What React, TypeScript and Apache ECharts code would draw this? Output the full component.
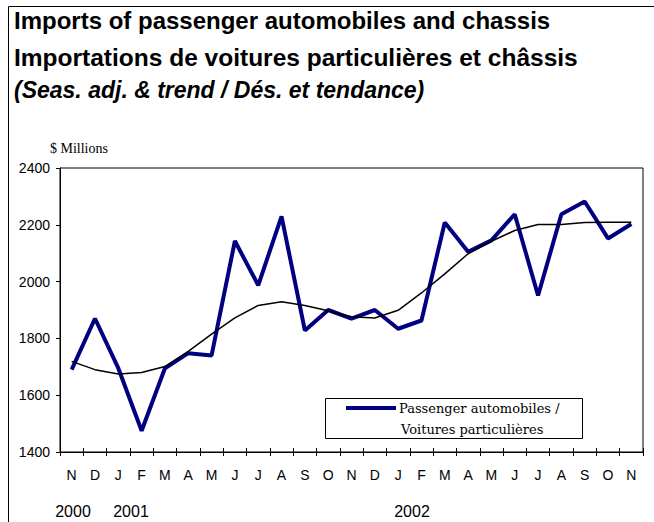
import React, { useEffect, useRef } from "react";
import * as echarts from "echarts";

const months = ["N","D","J","F","M","A","M","J","J","A","S","O","N","D","J","F","M","A","M","J","J","A","S","O","N"];
const passenger = [1690,1870,1695,1475,1695,1748,1740,2143,1987,2230,1828,1900,1870,1900,1834,1863,2208,2105,2145,2237,1951,2237,2282,2152,2203];
const trend = [1719,1690,1675,1680,1701,1754,1815,1872,1916,1929,1916,1897,1876,1872,1899,1960,2027,2098,2142,2180,2201,2201,2208,2209,2209];
const yearLabels = ["2000", "2001", "2002"];
const yearX = [73, 131, 412];
const titleLines = [
  "Imports of passenger automobiles and chassis",
  "Importations de voitures particulières et châssis",
  "(Seas. adj. & trend / Dés. et tendance)",
];
const legendLines = ["Passenger automobiles /", "Voitures particulières"];

const SANS = "'Liberation Sans', Arial, sans-serif";
const SERIF = "'DejaVu Serif', 'Liberation Serif', serif";

export default function App() {
  const ref = useRef<HTMLDivElement>(null);
  useEffect(() => {
    if (!ref.current) return;
    const chart = echarts.init(ref.current, null, { renderer: "svg" });
    const titleY = [8, 45, 78];
    const titleSize = [24, 24.5, 23];
    const graphic: any[] = [
      { type: "line", shape: { x1: 8.5, y1: 6.5, x2: 654, y2: 6.5 }, style: { stroke: "#000", lineWidth: 1 } },
      { type: "line", shape: { x1: 8.5, y1: 6.5, x2: 8.5, y2: 522 }, style: { stroke: "#000", lineWidth: 1 } },
      ...titleLines.map((t, i) => ({
        type: "text",
        x: 14,
        y: titleY[i],
        style: {
          text: t,
          fill: "#000",
          font: `${i === 2 ? "italic " : ""}bold ${titleSize[i]}px ${SANS}`,
          verticalAlign: "top",
        },
      })),
      {
        type: "text", x: 50, y: 148,
        style: { text: "$ Millions", fill: "#000", font: `14px 'Liberation Serif', serif`, verticalAlign: "middle" },
      },
      ...yearLabels.map((t, i) => ({
        type: "text", x: yearX[i], y: 511,
        style: { text: t, fill: "#000", font: `16px ${SANS}`, align: "center", verticalAlign: "middle" },
      })),
      {
        type: "rect", z: 10,
        shape: { x: 325.5, y: 398.5, width: 257, height: 40 },
        style: { fill: "#fff", stroke: "#000", lineWidth: 1 },
      },
      {
        type: "line", z: 11,
        shape: { x1: 346, y1: 408, x2: 396, y2: 408 },
        style: { stroke: "#000080", lineWidth: 4 },
      },
      {
        type: "text", z: 11, x: 399, y: 408,
        style: { text: legendLines[0], fill: "#000", font: `13px ${SERIF}`, verticalAlign: "middle" },
      },
      {
        type: "text", z: 11, x: 401, y: 429,
        style: { text: legendLines[1], fill: "#000", font: `13px ${SERIF}`, verticalAlign: "middle" },
      },
    ];
    chart.setOption({
      animation: false,
      backgroundColor: "#fff",
      grid: { left: 60, right: 11, top: 168, bottom: 70, show: true, borderColor: "#000", borderWidth: 1, containLabel: false },
      xAxis: [
        {
          type: "category",
          data: months,
          boundaryGap: true,
          axisLine: { lineStyle: { color: "#000", width: 1 } },
          axisTick: { show: true, length: 4, lineStyle: { color: "#000" } },
          axisLabel: { color: "#000", fontSize: 14, fontFamily: SANS, margin: 16, interval: 0 },
        },
        {
          type: "category",
          data: months,
          position: "bottom",
          boundaryGap: true,
          axisLine: { show: false },
          axisTick: { show: true, inside: true, length: 4, lineStyle: { color: "#000" } },
          axisLabel: { show: false },
        },
      ],
      yAxis: {
        type: "value",
        min: 1400,
        max: 2400,
        interval: 200,
        axisLine: { show: true, lineStyle: { color: "#000", width: 1 } },
        axisTick: { show: true, length: 4, lineStyle: { color: "#000" } },
        splitLine: { show: false },
        axisLabel: { color: "#000", fontSize: 14, fontFamily: SANS, margin: 10, formatter: (v: number) => String(v) },
      },
      series: [
        {
          name: "Passenger automobiles / Voitures particulières",
          type: "line",
          data: passenger,
          symbol: "none",
          lineStyle: { color: "#000080", width: 4 },
          itemStyle: { color: "#000080" },
        },
        {
          name: "Trend / Tendance",
          type: "line",
          data: trend,
          symbol: "none",
          lineStyle: { color: "#000", width: 1.5 },
          itemStyle: { color: "#000" },
        },
      ],
      graphic,
    });
    return () => chart.dispose();
  }, []);
  return <div ref={ref} style={{ position: "absolute", left: 0, top: 0, width: 654, height: 522 }} />;
}
